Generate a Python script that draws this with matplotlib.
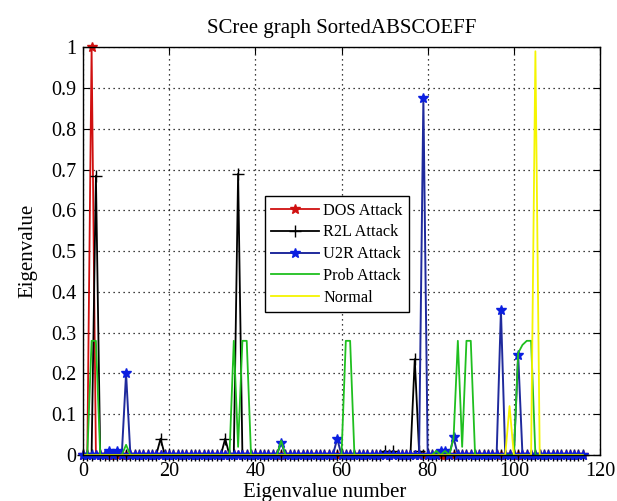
import numpy as np
import matplotlib
matplotlib.use('Agg')
import matplotlib.pyplot as plt
from matplotlib.ticker import FuncFormatter

plt.rcParams['font.family'] = ['Liberation Serif', 'DejaVu Serif']

# eigenvalue index 0..116
dos = [0, 0, 1.0, 0, 0, 0, 0, 0, 0, 0,
       0, 0, 0, 0, 0, 0, 0, 0, 0, 0,
       0, 0, 0, 0, 0, 0, 0, 0, 0, 0,
       0, 0, 0, 0, 0, 0, 0, 0, 0, 0,
       0, 0, 0, 0, 0, 0, 0, 0, 0, 0,
       0, 0, 0, 0, 0, 0, 0, 0, 0, 0,
       0, 0, 0, 0, 0, 0, 0, 0, 0, 0,
       0, 0, 0, 0, 0, 0, 0, 0, 0, 0,
       0, 0, 0, 0, 0, 0, 0, 0, 0, 0,
       0, 0, 0, 0, 0, 0, 0, 0, 0, 0,
       0, 0, 0, 0, 0, 0, 0, 0, 0, 0,
       0, 0, 0, 0, 0, 0, 0]

r2l = [0, 0, 0, 0.685, 0, 0, 0, 0, 0, 0,
       0, 0, 0, 0, 0, 0, 0, 0, 0.04, 0,
       0, 0, 0, 0, 0, 0, 0, 0, 0, 0,
       0, 0, 0, 0.04, 0, 0, 0.69, 0, 0, 0,
       0, 0, 0, 0, 0, 0, 0, 0, 0, 0,
       0, 0, 0, 0, 0, 0, 0, 0, 0, 0,
       0, 0, 0, 0, 0, 0, 0, 0, 0, 0,
       0.01, 0, 0.01, 0, 0, 0, 0, 0.235, 0.01, 0,
       0, 0, 0, 0, 0, 0, 0, 0, 0, 0,
       0, 0, 0, 0, 0, 0, 0, 0, 0, 0,
       0, 0, 0, 0, 0, 0, 0, 0, 0, 0,
       0, 0, 0, 0, 0, 0, 0]

u2r = [0, 0, 0, 0, 0, 0, 0.01, 0, 0.01, 0,
       0.2, 0, 0, 0, 0, 0, 0, 0, 0, 0,
       0, 0, 0, 0, 0, 0, 0, 0, 0, 0,
       0, 0, 0, 0, 0, 0, 0, 0, 0, 0,
       0, 0, 0, 0, 0, 0, 0.03, 0, 0, 0,
       0, 0, 0, 0, 0, 0, 0, 0, 0, 0.04,
       0, 0, 0, 0, 0, 0, 0, 0, 0, 0,
       0, 0, 0, 0, 0, 0, 0, 0, 0, 0.875,
       0, 0, 0, 0.01, 0.01, 0, 0.043, 0, 0, 0,
       0, 0, 0, 0, 0, 0, 0, 0.355, 0, 0,
       0, 0.245, 0, 0, 0, 0, 0, 0, 0, 0,
       0, 0, 0, 0, 0, 0, 0]

prob = [0, 0, 0.28, 0.28, 0, 0, 0, 0, 0, 0,
        0.025, 0, 0, 0, 0, 0, 0, 0, 0, 0,
        0, 0, 0, 0, 0, 0, 0, 0, 0, 0,
        0, 0, 0, 0, 0, 0.28, 0.02, 0.28, 0.28, 0,
        0, 0, 0, 0, 0, 0, 0.035, 0, 0, 0,
        0, 0, 0, 0, 0, 0, 0, 0, 0, 0,
        0, 0.28, 0.28, 0, 0, 0, 0, 0, 0, 0,
        0, 0, 0, 0, 0, 0, 0, 0, 0, 0,
        0, 0, 0.01, 0, 0.01, 0, 0.04, 0.28, 0.02, 0.28,
        0.28, 0, 0, 0, 0, 0, 0, 0, 0, 0,
        0, 0.25, 0.27, 0.28, 0.28, 0, 0, 0, 0, 0,
        0, 0, 0, 0, 0, 0, 0]

normal = [0, 0, 0, 0, 0, 0, 0, 0, 0, 0,
          0, 0, 0, 0, 0, 0, 0, 0, 0, 0,
          0, 0, 0, 0, 0, 0, 0, 0, 0, 0,
          0, 0, 0, 0, 0, 0, 0, 0, 0, 0,
          0, 0, 0, 0, 0, 0, 0, 0, 0, 0,
          0, 0, 0, 0, 0, 0, 0, 0, 0, 0,
          0, 0, 0, 0, 0, 0, 0, 0, 0, 0,
          0, 0, 0, 0, 0, 0, 0, 0, 0, 0,
          0, 0, 0, 0, 0, 0, 0, 0, 0, 0,
          0, 0, 0, 0, 0, 0, 0, 0, 0, 0.12,
          0, 0, 0, 0, 0, 0.99, 0, 0, 0, 0,
          0, 0, 0, 0, 0, 0, 0]

labels = ['DOS Attack', 'R2L Attack', 'U2R Attack', 'Prob Attack', 'Normal']

x = np.arange(len(dos))

fig = plt.figure(figsize=(6.17, 5.01), dpi=100)
ax = fig.add_axes([0.1345, 0.0918, 0.838, 0.814])

ax.plot(x, dos, color='#d01010', lw=1.3, marker='*', ms=7, mec='#d01010', label=labels[0], clip_on=False)
ax.plot(x, r2l, color='black', lw=1.3, marker='+', ms=8, mew=1.0, label=labels[1], clip_on=False)
ax.plot(x, u2r, color='#1f2a9c', lw=1.4, marker='*', ms=7.5, mec='#0a1ee0', mfc='#0a1ee0',
        label=labels[2], clip_on=False)
ax.plot(x, prob, color='#1fbf1f', lw=1.3, label=labels[3])
ax.plot(x, normal, color='#f5f500', lw=1.3, label=labels[4])

ax.set_xlim(0, 120)
ax.set_ylim(0, 1)
ax.set_xticks(range(0, 121, 20))
ax.set_yticks(np.arange(0, 1.01, 0.1))
ax.yaxis.set_major_formatter(FuncFormatter(lambda v, p: '%g' % round(v, 1)))
ax.tick_params(direction='in', top=True, right=True, length=5, labelsize=14.5, pad=5)
ax.grid(True, linestyle=(0, (1, 3)), color='black', linewidth=0.9)
for s in ax.spines.values():
    s.set_linewidth(1.0)

ax.set_title('SCree graph SortedABSCOEFF', fontsize=15, pad=10)
ax.set_xlabel('Eigenvalue number', fontsize=15, labelpad=0)
ax.xaxis.set_label_coords(0.468, -0.068)
ax.set_ylabel('Eigenvalue', fontsize=15, labelpad=10)

leg = ax.legend(loc='upper left', bbox_to_anchor=(0.352, 0.635), fontsize=11.7,
                fancybox=False, edgecolor='black', framealpha=1, handlelength=2.9,
                handletextpad=0.3, labelspacing=0.36, borderpad=0.4, borderaxespad=0,
                numpoints=1)
leg.get_frame().set_linewidth(1.0)

fig.savefig('out.png', dpi=100)
